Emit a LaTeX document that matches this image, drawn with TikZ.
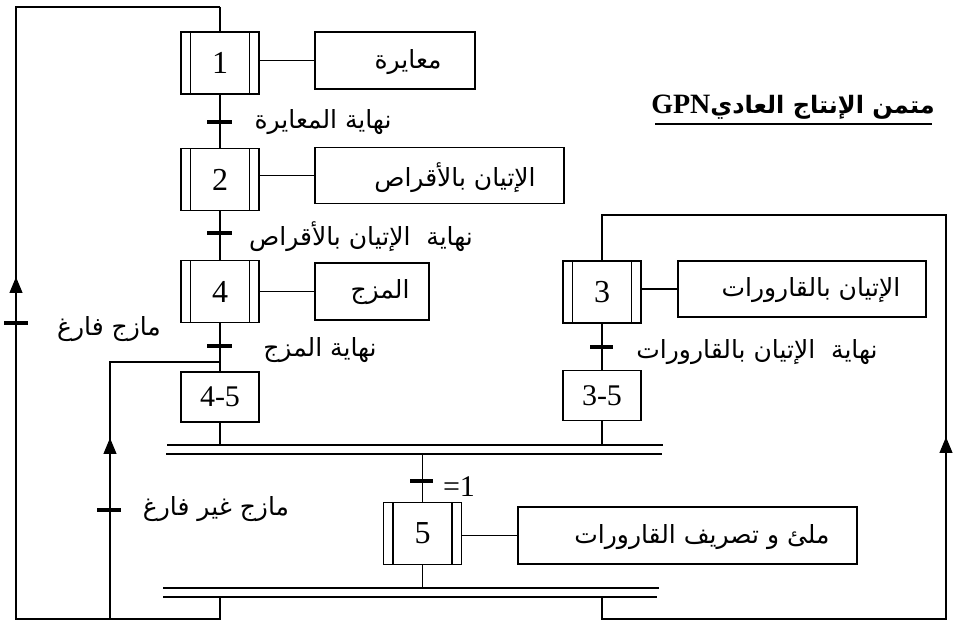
\documentclass[tikz,border=0pt]{standalone}
\usepackage{fontspec}
\setmainfont{Liberation Serif}
\newfontfamily\arabicfont[Script=Arabic]{DejaVu Sans}
\TeXXeTstate=1
\usetikzlibrary{arrows.meta}
\tikzset{
  stepbox/.style={draw, line width=1.6pt, minimum width=78pt, minimum height=62pt, inner sep=0pt,
    font=\fontsize{32}{34}\selectfont,
    path picture={
      \draw[line width=1.3pt] ([xshift=9.5pt]path picture bounding box.north west) -- ([xshift=9.5pt]path picture bounding box.south west);
      \draw[line width=1.3pt] ([xshift=-9.5pt]path picture bounding box.north east) -- ([xshift=-9.5pt]path picture bounding box.south east);
    }},
  macrobox/.style={draw, line width=1.6pt, minimum width=78pt, minimum height=50pt, inner sep=0pt,
    font=\fontsize{30}{32}\selectfont},
  actbox/.style={draw, line width=1.8pt, inner sep=0pt},
  artext/.style={font=\arabicfont\fontsize{25}{28}\selectfont, inner sep=0pt},
  wire/.style={line width=1.1pt},
  tick/.style={line width=3.4pt},
  bar/.style={line width=2pt},
  uparrow/.style={line width=1.1pt, -{Triangle[length=16pt,width=13pt]}},
}
\begin{document}
\begin{tikzpicture}[x=1pt,y=-1pt]
\useasboundingbox (0,0) rectangle (962,620);

% steps
\node[stepbox] (s1) at (220,63) {1};
\node[stepbox] (s2) at (220,179.5) {2};
\node[stepbox] (s4) at (220,291.5) {4};
\node[stepbox] (s3) at (602,292) {3};
\node[stepbox] (s5) at (422.5,533.5) {5};
\node[macrobox] (m45) at (220,397) {4-5};
\node[macrobox] (m35) at (602,395.5) {3-5};

% action boxes
\node[actbox, minimum width=160pt, minimum height=57pt] (a1) at (395,60.5) {};
\node[actbox, minimum width=249pt, minimum height=56pt] (a2) at (439.5,175.5) {};
\node[actbox, minimum width=114pt, minimum height=57pt] (a4) at (372,291.5) {};
\node[actbox, minimum width=248pt, minimum height=56pt] (a3) at (802,289) {};
\node[actbox, minimum width=339pt, minimum height=57pt] (a5) at (687.5,535.5) {};

\node[artext] (a1t) at (408,62) {\beginR معايرة\endR};
\node[artext] (a2t) at (455,178) {\beginR الإتيان بالأقراص\endR};
\node[artext] (a4t) at (380,292) {\beginR المزج\endR};
\node[artext] (a3t) at (811,290) {\beginR الإتيان بالقارورات\endR};
\node[artext] (a5t) at (702,537) {\beginR ملئ و تصريف القارورات\endR};

% action links
\draw[wire] (s1.east |- a1.west) -- (a1.west);
\draw[wire] (s2.east |- a2.west) -- (a2.west);
\draw[wire] (s4.east |- a4.west) -- (a4.west);
\draw[wire] (s3.east |- a3.west) -- (a3.west);
\draw[wire] (s5.east |- a5.west) -- (a5.west);

% coordinates
\coordinate (topL) at (16,7);
\coordinate (topR) at (220,7);
\coordinate (botL) at (16,619);
\coordinate (botB) at (110,619);
\coordinate (botM) at (220,619);
\coordinate (brL) at (110,362);
\coordinate (brR) at (220,362);
\coordinate (syncA1) at (167,445);
\coordinate (syncA2) at (663,445);
\coordinate (syncB1) at (166,454);
\coordinate (syncB2) at (662,454);
\coordinate (divA1) at (163,588);
\coordinate (divA2) at (659,588);
\coordinate (divB1) at (163,597);
\coordinate (divB2) at (657,597);
\coordinate (rBot1) at (602,619);
\coordinate (rBot2) at (946,619);
\coordinate (rTop2) at (946,215);
\coordinate (rTop1) at (602,215);

% main sequence
\draw[wire] (topR) -- (s1.north);
\draw[wire] (s1.south) -- (s2.north);
\draw[wire] (s2.south) -- (s4.north);
\draw[wire] (s4.south) -- (m45.north);
\draw[wire] (m45.south) -- (m45.south |- syncA1);
\draw[wire] (s3.south) -- (m35.north);
\draw[wire] (m35.south) -- (m35.south |- syncA1);
\draw[wire] (s5.north |- syncB1) -- (s5.north);
\draw[wire] (s5.south) -- (s5.south |- divA1);

% bars
\draw[bar] (syncA1) -- (syncA2);
\draw[bar] (syncB1) -- (syncB2);
\draw[bar] (divA1) -- (divA2);
\draw[bar] (divB1) -- (divB2);

% loops
\draw[wire] (botM |- divB1) -- (botM) -- (botL) -- (topL) -- (topR);
\draw[wire] (botB) -- (brL) -- (brR);
\draw[wire] (rBot1 |- divB1) -- (rBot1) -- (rBot2) -- (rTop2) -- (rTop1) -- (s3.north);
\draw[uparrow] (16,300) -- (16,277);
\draw[uparrow] (110,460) -- (110,438);
\draw[uparrow] (946,460) -- (946,437);

% transitions
\draw[tick] (207,122) -- (232,122);
\draw[tick] (207,233) -- (232,233);
\draw[tick] (207,346) -- (232,346);
\draw[tick] (590,347) -- (613,347);
\draw[tick] (410,481) -- (433,481);
\draw[tick] (4,323) -- (28,323);
\draw[tick] (97,510) -- (121,510);

\node[artext] (t1) at (323,122) {\beginR نهاية المعايرة\endR};
\node[artext] (t2) at (361,237) {\beginR نهاية \ الإتيان بالأقراص\endR};
\node[artext] (t4) at (320,350) {\beginR نهاية المزج\endR};
\node[artext] (t3) at (757,352) {\beginR نهاية \ الإتيان بالقارورات\endR};
\node[artext] (tl1) at (109,329) {\beginR مازج فارغ\endR};
\node[artext] (tl2) at (216,509) {\beginR مازج غير فارغ\endR};
\node[font=\fontsize{30}{32}\selectfont, inner sep=0pt] (t5) at (459,487) {=1};

% title
\node[font=\arabicfont\bfseries\fontsize{24}{26}\selectfont, inner sep=0pt] (title) at (793,107)
  {\beginR متمن الإنتاج العادي\beginL{\rmfamily\bfseries\fontsize{28}{30}\selectfont GPN}\endL\endR};
\draw[line width=2.4pt] (655,124) -- (932,124);
\end{tikzpicture}
\end{document}
